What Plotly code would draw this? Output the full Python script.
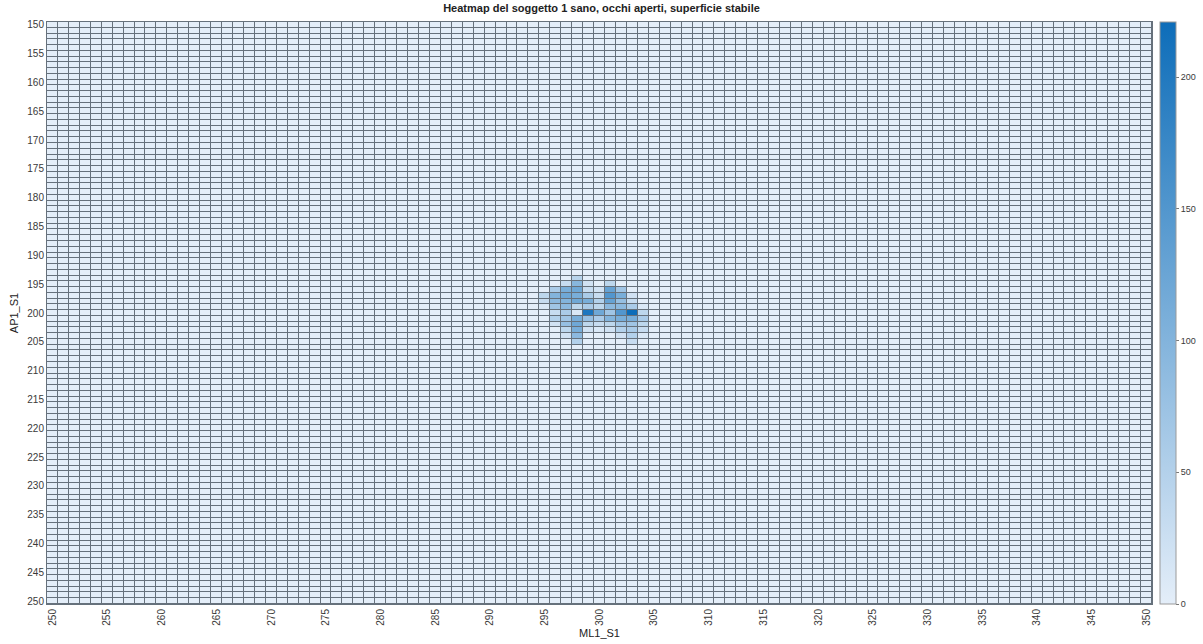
import numpy as np
import plotly.graph_objects as go

# Axis categories
ml_values = list(range(250, 351))   # ML1_S1 (x)
ap_values = list(range(150, 251))   # AP1_S1 (y)

# Non-zero block (rows AP 194..205, cols ML 295..305)
block_ap = list(range(194, 206))
block_ml = list(range(295, 306))
block_counts = [
    [0,   0,   0,  45,   0,   0,   0,   0,   0,   0, 0],
    [0,   0,  30,  95,  20,   0,  40,   0,   0,   0, 0],
    [0,  60, 110, 120,  30,  20, 130,  70,   0,   0, 0],
    [40, 100, 120, 110,  60,  30, 150, 110,  20,   0, 0],
    [30,  90, 100, 120, 110,  50, 130,  80,  30,   0, 0],
    [10,  70,  90,  40,  60,  40,  90,  90,  60,  10, 0],
    [0,  30,  60,  10, 205, 120,  70, 150, 221,  40, 0],
    [0,  50,  70, 110,  80,  60, 100, 110, 110,  60, 0],
    [0,  20,  80, 120,  40,  30,  40,  70,  70,  40, 0],
    [0,   0,  40, 110,  20,  10,  20,  50,  60,  30, 0],
    [0,   0,  20,  90,   0,   0,   0,  20,  50,  10, 0],
    [0,   0,   0,  50,   0,   0,   0,   0,  30,   0, 0],
]

z = np.zeros((len(ap_values), len(ml_values)))
for i, ap in enumerate(block_ap):
    for j, ml in enumerate(block_ml):
        z[ap_values.index(ap), ml_values.index(ml)] = block_counts[i][j]

x_ticks = list(range(250, 351, 5))
y_ticks = list(range(150, 251, 5))
cbar_ticks = [0, 50, 100, 150, 200]

font_family = "Liberation Sans, Arial, sans-serif"
tick_color = "#3a3a3a"
grid_color = "#66717c"

fig = go.Figure(go.Heatmap(
    x=ml_values, y=ap_values, z=z,
    zmin=0, zmax=221,
    colorscale=[[0, "#e4eef9"], [1, "#0d6db9"]],
    xgap=1, ygap=1,
    colorbar=dict(
        x=1.0075, xanchor="left", y=0.5, yanchor="middle",
        len=1.0, lenmode="fraction", thickness=16,
        xpad=0, ypad=0,
        outlinewidth=1, outlinecolor="#9a9a9a",
        tickvals=cbar_ticks, ticks="outside", ticklen=3,
        tickcolor="#777777",
        tickfont=dict(family=font_family, size=9, color=tick_color),
    ),
))

fig.update_layout(
    width=1203, height=644,
    margin=dict(l=47, r=51, t=22, b=40, autoexpand=False),
    paper_bgcolor="white",
    plot_bgcolor=grid_color,
    title=dict(
        text="<b>Heatmap del soggetto 1 sano, occhi aperti, superficie stabile</b>",
        x=0.5, xanchor="center", y=0.988, yanchor="middle",
        font=dict(family=font_family, size=11, color="#222222"),
    ),
    xaxis=dict(
        range=[249.5, 350.5], tickvals=x_ticks, tickangle=-90,
        showgrid=False, zeroline=False, ticks="", automargin=False,
        showline=True, linecolor=grid_color, mirror=True,
        tickfont=dict(family=font_family, size=10, color=tick_color),
        title=dict(text="ML1_S1", standoff=4,
                   font=dict(family=font_family, size=11, color="#222222")),
    ),
    yaxis=dict(
        range=[250.5, 149.5], tickvals=y_ticks,
        showgrid=False, zeroline=False, ticks="", automargin=False,
        showline=True, linecolor=grid_color, mirror=True,
        tickfont=dict(family=font_family, size=10, color=tick_color),
        title=dict(text="AP1_S1", standoff=6,
                   font=dict(family=font_family, size=11, color="#222222")),
    ),
)

fig.write_html(
    "out.html",
    config={"displayModeBar": False},
    post_script="document.body.style.margin='0px';document.body.style.overflow='hidden';",
)
